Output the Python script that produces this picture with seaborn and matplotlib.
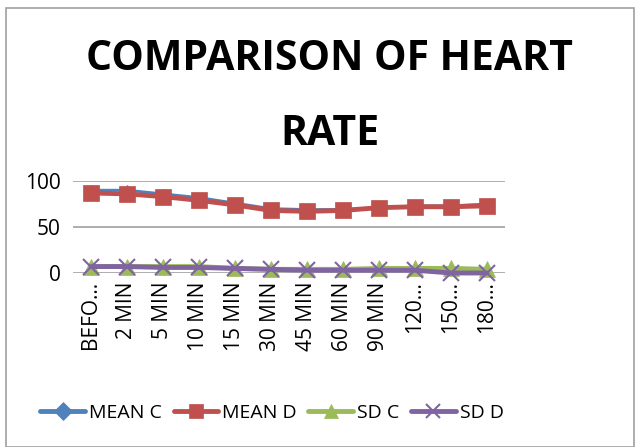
import matplotlib
matplotlib.use("Agg")
import matplotlib.pyplot as plt
import seaborn as sns
from matplotlib.patches import Rectangle

# data
times = ["BEFORE", "2 MIN", "5 MIN", "10 MIN", "15 MIN", "30 MIN",
         "45 MIN", "60 MIN", "90 MIN", "120 MIN", "150 MIN", "180 MIN"]
tick_labels = ["BEFO…", "2 MIN", "5 MIN", "10 MIN", "15 MIN", "30 MIN",
               "45 MIN", "60 MIN", "90 MIN", "120…", "150…", "180…"]
mean_c = [90, 90, 86, 82, 76, 70, 69, 69, 71, 73, 73, 75]
mean_d = [87, 86, 83, 79, 74, 68, 67, 68, 71, 72, 72, 73]
sd_c = [7, 7, 7, 7, 5, 4, 4, 4, 5, 5, 5, 4]
sd_d = [7, 7, 6, 6, 5, 4, 3, 3, 3, 3, 0, 0]

series = [
    ("MEAN C", mean_c, "#4F81BD", "D", 2.0, 5),
    ("MEAN D", mean_d, "#C0504D", "s", 3.5, 12),
    ("SD C", sd_c, "#9BBB59", "^", 3.5, 12),
    ("SD D", sd_d, "#8064A2", "x", 3.5, 12),
]

sns.set_theme(style="white")
plt.rcParams["font.family"] = ["Open Sans", "DejaVu Sans"]
plt.rcParams["text.color"] = "black"
plt.rcParams["xtick.color"] = "black"
plt.rcParams["ytick.color"] = "black"

fig = plt.figure(figsize=(6.4, 4.47), dpi=100)
ax = fig.add_axes([73 / 640, 174 / 447, 432 / 640, 92 / 447])

for name, vals, col, mk, lw, ms in series:
    sns.lineplot(x=times, y=vals, ax=ax, color=col, marker=mk, linewidth=lw,
                 markersize=ms, markeredgecolor=col,
                 markeredgewidth=1.5 if mk == "x" else 0.5,
                 label=name, clip_on=False, sort=False)

ax.set_xlim(-0.5, len(times) - 0.5)
ax.set_ylim(0, 100)
ax.set_yticks([0, 50, 100])
ax.set_xticks(range(len(times)))
ax.set_xticklabels(tick_labels, rotation=90, fontsize=15)
ax.tick_params(axis="y", labelsize=15, pad=9, length=0)
ax.tick_params(axis="x", pad=6, length=0)
ax.yaxis.grid(True, color="#a0a0a0", linewidth=1.2)
ax.xaxis.grid(False)
for s in ax.spines.values():
    s.set_visible(False)
ax.set_xlabel("")
ax.set_ylabel("")

handles, labels = ax.get_legend_handles_labels()
ax.get_legend().remove()
leg = fig.legend(handles, labels, loc="center", bbox_to_anchor=(0.425, 1 - 413 / 447),
                 ncol=4, frameon=False, fontsize=14, handlelength=2.3,
                 handletextpad=0.2, columnspacing=0.6, markerscale=0.8)
for h in leg.legend_handles:
    h.set_linewidth(3.5)
    if h.get_marker() == "D":
        h.set_markersize(9)

fig.text(0.515, 1 - 70 / 447, "COMPARISON OF HEART", ha="center", va="baseline",
         fontsize=29.5, fontweight="bold")
fig.text(0.515, 1 - 145 / 447, "RATE", ha="center", va="baseline",
         fontsize=29.5, fontweight="bold")

fig.patches.append(Rectangle((6 / 640, 0), 1 - 12 / 640, 1 - 8 / 447,
                             transform=fig.transFigure, fill=False,
                             edgecolor="#a0a0a0", linewidth=1.2))

fig.savefig("out.png", dpi=100)
